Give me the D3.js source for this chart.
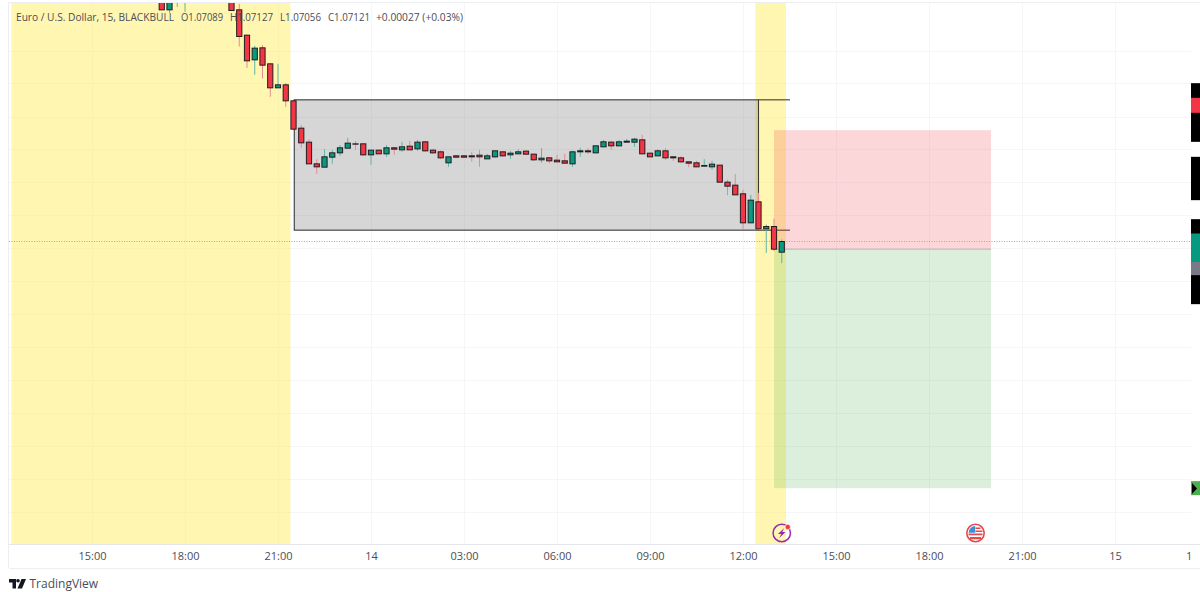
<!DOCTYPE html>
<html>
<head>
<meta charset="utf-8">
<script src="https://cdn.jsdelivr.net/npm/d3@7"></script>
<style>
  html, body { margin: 0; padding: 0; background: #fff; overflow: hidden; }
  text { font-family: "Open Sans", sans-serif; }
</style>
</head>
<body>
<svg id="chart" width="1200" height="592"></svg>
<script>
// bar number = 15 minute bars counted from 12:00 on the 14th, bars -71..-67 are above the top edge
const firstBar = -75

const opens = [1.07861, 1.07816, 1.07855, 1.07846, null, null, null, null, null,
  1.07870, 1.07816, 1.07740, 1.07666, 1.07702, 1.07654, 1.07582, 1.07591, 1.07543, 1.07461,
  1.07419, 1.07354, 1.07344, 1.07374, 1.07387, 1.07401, 1.07414, 1.07414, 1.07381, 1.07395,
  1.07384, 1.07402, 1.07396, 1.07407, 1.07399, 1.07420, 1.07395, 1.07390, 1.07357, 1.07378,
  1.07378, 1.07378, 1.07380, 1.07369, 1.07375, 1.07390, 1.07381, 1.07384, 1.07392, 1.07383,
  1.07366, 1.07372, 1.07365, 1.07363, 1.07354, 1.07390, 1.07393, 1.07387, 1.07405, 1.07419,
  1.07408, 1.07419, 1.07419, 1.07426, 1.07386, 1.07378, 1.07393, 1.07375, 1.07372, 1.07360,
  1.07357, 1.07347, 1.07345, 1.07350, 1.07299, 1.07290, 1.07264, 1.07177, 1.07240, 1.07159,
  1.07166, 1.07089]
const highs = [1.07870, 1.07872, 1.07888, 1.07885, null, null, null, null, null,
  1.07880, 1.07834, 1.07741, 1.07708, 1.07710, 1.07656, 1.07654, 1.07597, 1.07546, 1.07471,
  1.07428, 1.07368, 1.07398, 1.07396, 1.07410, 1.07432, 1.07423, 1.07415, 1.07395, 1.07397,
  1.07410, 1.07405, 1.07420, 1.07423, 1.07426, 1.07422, 1.07399, 1.07394, 1.07375, 1.07379,
  1.07379, 1.07390, 1.07396, 1.07384, 1.07393, 1.07391, 1.07393, 1.07398, 1.07395, 1.07384,
  1.07401, 1.07375, 1.07381, 1.07384, 1.07393, 1.07402, 1.07401, 1.07408, 1.07426, 1.07423,
  1.07426, 1.07429, 1.07432, 1.07441, 1.07387, 1.07398, 1.07401, 1.07376, 1.07377, 1.07361,
  1.07363, 1.07368, 1.07363, 1.07351, 1.07306, 1.07323, 1.07276, 1.07261, 1.07267, 1.07172,
  1.07190, 1.07127]
const lows = [1.07816, 1.07807, 1.07825, 1.07810, null, null, null, null, null,
  1.07814, 1.07706, 1.07642, 1.07621, 1.07610, 1.07555, 1.07582, 1.07525, 1.07456, 1.07402,
  1.07354, 1.07324, 1.07344, 1.07354, 1.07378, 1.07401, 1.07396, 1.07378, 1.07351, 1.07384,
  1.07375, 1.07381, 1.07390, 1.07395, 1.07393, 1.07390, 1.07384, 1.07368, 1.07345, 1.07373,
  1.07373, 1.07360, 1.07345, 1.07368, 1.07372, 1.07375, 1.07369, 1.07384, 1.07381, 1.07363,
  1.07357, 1.07356, 1.07359, 1.07355, 1.07345, 1.07375, 1.07384, 1.07386, 1.07404, 1.07396,
  1.07407, 1.07418, 1.07405, 1.07384, 1.07375, 1.07377, 1.07366, 1.07363, 1.07356, 1.07344,
  1.07344, 1.07346, 1.07336, 1.07297, 1.07260, 1.07261, 1.07158, 1.07177, 1.07155, 1.07087,
  1.07093, 1.07056]
const closes = [1.07816, 1.07863, 1.07882, 1.07876, null, null, null, null, null,
  1.07814, 1.07736, 1.07663, 1.07701, 1.07650, 1.07582, 1.07591, 1.07543, 1.07458, 1.07417,
  1.07354, 1.07345, 1.07375, 1.07387, 1.07402, 1.07416, 1.07413, 1.07381, 1.07395, 1.07384,
  1.07402, 1.07398, 1.07405, 1.07396, 1.07419, 1.07393, 1.07387, 1.07372, 1.07375, 1.07374,
  1.07374, 1.07375, 1.07375, 1.07378, 1.07393, 1.07378, 1.07386, 1.07390, 1.07383, 1.07366,
  1.07371, 1.07363, 1.07360, 1.07356, 1.07390, 1.07393, 1.07390, 1.07408, 1.07420, 1.07408,
  1.07420, 1.07422, 1.07428, 1.07384, 1.07375, 1.07393, 1.07372, 1.07372, 1.07360, 1.07356,
  1.07345, 1.07349, 1.07353, 1.07299, 1.07287, 1.07261, 1.07177, 1.07245, 1.07159, 1.07166,
  1.07098, 1.07121]

const timeTickBars = [-84, -72, -60, -48, -36, -24, -12, 0, 12, 24, 36, 48, 57.5]
const timeTickLabels = ['15:00', '18:00', '21:00', '14', '03:00', '06:00', '09:00', '12:00', '15:00', '18:00', '21:00', '15', '1']
const gridBars = timeTickBars.slice(0, 12)
const gridPrices = [1.07693, 1.07596, 1.07495, 1.07398, 1.07299, 1.07200, 1.07101, 1.07002, 1.06903, 1.06804, 1.06705, 1.06606, 1.06507, 1.06408, 1.06309]

const sessionStart = [-94.4, 1.6]
const sessionEnd = [-58.4, 5.55]
const rangeBars = [-57.9, 2]
const rangePrices = [1.07546, 1.07155]
const rangeLineEnd = 6.06
const tradeBars = [4, 32]
const stopPrice = 1.07455
const entryPrice = 1.07098
const targetPrice = 1.06381
const lastPrice = 1.07121

// the price scale of the source is painted over with these blocks
const blockTops = [1.07596, 1.07552, 1.07375, 1.07188, 1.07145, 1.07062, 1.06402]
const blockBottoms = [1.07420, 1.07507, 1.07245, 1.06933, 1.07062, 1.07020, 1.06360]
const blockColors = ['#000', '#f23645', '#000', '#000', '#089981', '#787b86', '#4caf50']

const legendParts = ['Euro / U.S. Dollar, 15, BLACKBULL', 'O1.07089', 'H1.07127', 'L1.07056', 'C1.07121', '+0.00027 (+0.03%)']
const legendLeft = [16, 181, 230, 280, 328, 376]
const legendWidth = [158, 42, 43, 41, 42, 87]

const width = 1200
const plotLeft = 9
const plotRight = 1191
const plotTop = 3
const plotBottom = 544
const axisBottom = 568

const x = d3.scaleLinear().domain([0, 10]).range([743, 820.5])
const y = d3.scaleLinear().domain([1.078455, 1.062]).range([0, 548.5])

const bars = opens.map((o, i) => ({ bar: firstBar + i, o: o, h: highs[i], l: lows[i], c: closes[i] }))
  .filter((d) => d.o !== null)

const svg = d3.select('#chart')

svg.append('defs').append('clipPath').attr('id', 'plot')
  .append('rect')
  .attr('x', plotLeft).attr('y', plotTop)
  .attr('width', plotRight - plotLeft).attr('height', plotBottom - plotTop)

// frame
svg.append('path')
  .attr('d', `M${plotLeft - 0.5},${axisBottom}V${plotTop - 0.5}H${width}`)
  .attr('fill', 'none').attr('stroke', '#eceef2')

const plot = svg.append('g').attr('clip-path', 'url(#plot)')

// grid
plot.append('g').selectAll('line').data(gridBars).join('line')
  .attr('x1', (d) => Math.round(x(d)) + 0.5).attr('x2', (d) => Math.round(x(d)) + 0.5)
  .attr('y1', plotTop).attr('y2', plotBottom)
  .attr('stroke', '#f5f6f8')
plot.append('g').selectAll('line').data(gridPrices).join('line')
  .attr('x1', plotLeft).attr('x2', plotRight)
  .attr('y1', (d) => Math.round(y(d)) + 0.5).attr('y2', (d) => Math.round(y(d)) + 0.5)
  .attr('stroke', '#f5f6f8')

// session highlights
plot.append('g').selectAll('rect').data(sessionStart).join('rect')
  .attr('x', (d) => x(d))
  .attr('width', (d, i) => x(sessionEnd[i]) - x(d))
  .attr('y', plotTop).attr('height', plotBottom - plotTop)
  .attr('fill', 'rgba(255,235,59,0.4)')

// range box
plot.append('rect')
  .attr('x', x(rangeBars[0])).attr('y', y(rangePrices[0]))
  .attr('width', x(rangeBars[1]) - x(rangeBars[0]))
  .attr('height', y(rangePrices[1]) - y(rangePrices[0]))
  .attr('fill', 'rgba(60,60,60,0.21)')
  .attr('stroke', '#3a3a3a').attr('stroke-width', 1.1)
plot.append('g').selectAll('line').data(rangePrices).join('line')
  .attr('x1', x(rangeBars[1])).attr('x2', x(rangeLineEnd))
  .attr('y1', (d) => y(d)).attr('y2', (d) => y(d))
  .attr('stroke', '#3a3a3a').attr('stroke-width', 1.1)

// short position tool
plot.append('rect')
  .attr('x', x(tradeBars[0])).attr('y', y(stopPrice))
  .attr('width', x(tradeBars[1]) - x(tradeBars[0]))
  .attr('height', y(entryPrice) - y(stopPrice))
  .attr('fill', 'rgba(242,54,69,0.2)')
plot.append('rect')
  .attr('x', x(tradeBars[0])).attr('y', y(entryPrice))
  .attr('width', x(tradeBars[1]) - x(tradeBars[0]))
  .attr('height', y(targetPrice) - y(entryPrice))
  .attr('fill', 'rgba(76,175,80,0.2)')
plot.append('line')
  .attr('x1', x(tradeBars[0])).attr('x2', x(tradeBars[1]))
  .attr('y1', y(entryPrice)).attr('y2', y(entryPrice))
  .attr('stroke', '#b5b7bd').attr('stroke-width', 1)

// last price line
plot.append('line')
  .attr('x1', plotLeft).attr('x2', plotRight)
  .attr('y1', y(lastPrice)).attr('y2', y(lastPrice))
  .attr('stroke', '#6fc4b3').attr('stroke-dasharray', '1 1.5')

// candles
const candle = plot.append('g').selectAll('g').data(bars).join('g')
candle.append('line')
  .attr('x1', (d) => x(d.bar)).attr('x2', (d) => x(d.bar))
  .attr('y1', (d) => y(d.h)).attr('y2', (d) => y(d.l))
  .attr('stroke', (d) => (d.c >= d.o ? '#62b5a3' : '#e58a8f'))
  .attr('stroke-width', 1)
candle.append('rect')
  .attr('x', (d) => x(d.bar) - 2.6)
  .attr('width', 5.2)
  .attr('y', (d) => y(Math.max(d.o, d.c)))
  .attr('height', (d) => Math.abs(y(d.o) - y(d.c)))
  .attr('fill', (d) => (d.c >= d.o ? '#089981' : '#f23645'))
  .attr('stroke', '#231c1f').attr('stroke-width', 1)

// economic event marks
const bolt = svg.append('g').attr('transform', `translate(${x(5)},${plotBottom - 11})`)
bolt.append('circle').attr('r', 8.7)
  .attr('fill', 'none').attr('stroke', '#9c27b0').attr('stroke-width', 1.5)
bolt.append('path').attr('d', 'M2.5,-5L-3.8,1H-0.5L-2.5,5L3.8,-1H0.5Z').attr('fill', '#9c27b0')
bolt.append('circle').attr('cx', 6).attr('cy', -6).attr('r', 2.7)
  .attr('fill', '#f23645').attr('stroke', '#fff').attr('stroke-width', 0.7)

const flag = svg.append('g').attr('transform', `translate(${x(30)},${plotBottom - 11})`)
flag.append('circle').attr('r', 8.7)
  .attr('fill', '#fff').attr('stroke', '#e5484d').attr('stroke-width', 1.6)
flag.append('path')
  .attr('d', 'M0,-5.5H5V-4H0ZM0,-2.5H7V-1H0ZM-7,0.5H7V2.2H-7ZM-5.5,4H5.5V6.2H-5.5Z')
  .attr('fill', '#e5484d')
flag.append('path').attr('d', 'M-6.9,-0.3A6.9,6.9 0 0 1 -0.3,-6.9V-0.3Z').attr('fill', '#3f8fd8')

// painted over price scale
svg.append('g').selectAll('rect').data(blockTops).join('rect')
  .attr('x', plotRight).attr('width', width - plotRight)
  .attr('y', (d) => y(d))
  .attr('height', (d, i) => y(blockBottoms[i]) - y(d))
  .attr('fill', (d, i) => blockColors[i])
svg.append('path')
  .attr('transform', `translate(${plotRight + 1},${y(1.06380)})`)
  .attr('d', 'M0,-5.5L5,0L0,5.5Z').attr('fill', '#000')

// time axis
const axis = d3.axisBottom(x)
  .tickValues(timeTickBars)
  .tickFormat((d, i) => timeTickLabels[i])
  .tickSize(0)
  .tickPadding(8)
const axisG = svg.append('g').attr('transform', `translate(0,${plotBottom})`).call(axis)
axisG.select('.domain').remove()
axisG.selectAll('text')
  .attr('font-size', 11).attr('fill', '#4a4d57')
  .style('font-family', '"Open Sans", sans-serif')
svg.append('line')
  .attr('x1', plotLeft).attr('x2', width)
  .attr('y1', plotBottom + 0.5).attr('y2', plotBottom + 0.5)
  .attr('stroke', '#e4e6ec')
svg.append('line')
  .attr('x1', plotLeft).attr('x2', width)
  .attr('y1', axisBottom + 0.5).attr('y2', axisBottom + 0.5)
  .attr('stroke', '#eceef2')

// legend
svg.append('g').selectAll('text').data(legendParts).join('text')
  .attr('x', (d, i) => legendLeft[i]).attr('y', 21)
  .attr('font-size', 11).attr('fill', '#4a4d57')
  .attr('textLength', (d, i) => legendWidth[i])
  .attr('lengthAdjust', 'spacingAndGlyphs')
  .text((d) => d)

// footer logo
const logo = svg.append('g').attr('transform', 'translate(9,579)')
logo.append('path').attr('d', 'M0,0H7V9.5H3.5V3.5H0Z').attr('fill', '#131722')
logo.append('circle').attr('cx', 9).attr('cy', 1.8).attr('r', 1.8).attr('fill', '#131722')
logo.append('path').attr('d', 'M12.5,0H17L13,9.5H8.5Z').attr('fill', '#131722')
svg.append('text')
  .attr('x', 29.5).attr('y', 588)
  .attr('font-size', 12).attr('fill', '#4a4d57')
  .text('TradingView')
</script>
</body>
</html>
